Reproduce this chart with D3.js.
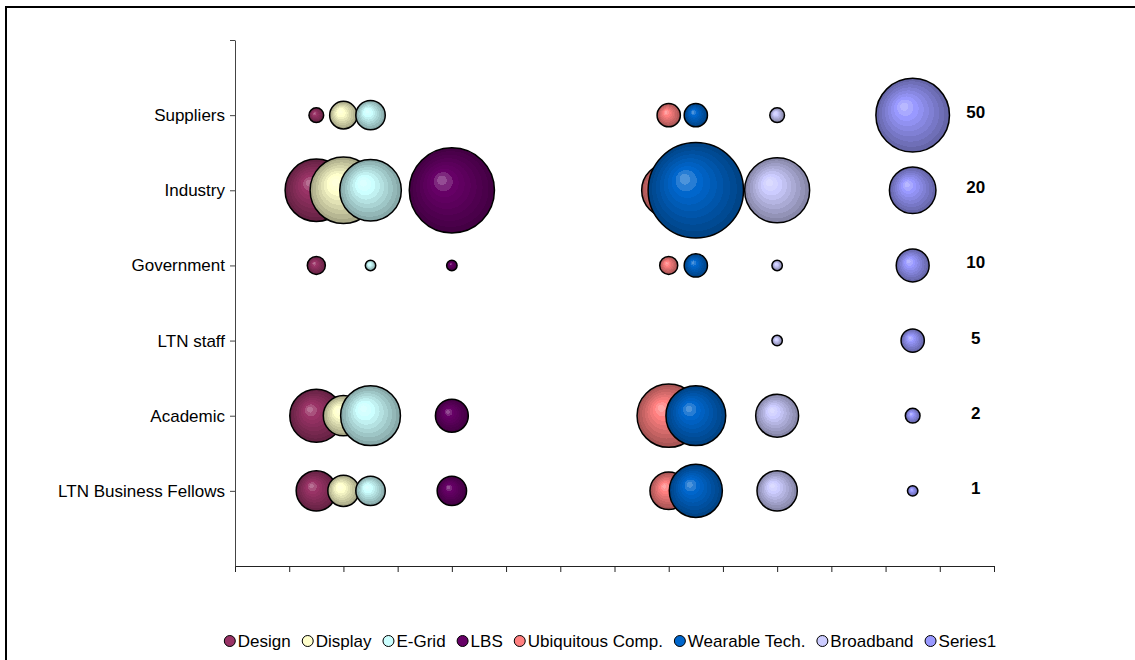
<!DOCTYPE html>
<html>
<head>
<meta charset="utf-8">
<script src="https://cdn.jsdelivr.net/npm/d3@7"></script>
<style>
  html, body { margin: 0; padding: 0; background: #fff; }
  svg { display: block; font-family: Arial, "Liberation Sans", sans-serif; }
</style>
</head>
<body>
<svg id="chart" width="1135" height="660"></svg>
<script>
// Row labels on the vertical axis, bottom (y = 1) to top (y = 6)
const categories = ["LTN Business Fellows", "Academic", "LTN staff", "Government", "Industry", "Suppliers"];

// Series names and the horizontal position of each series column
const seriesNames = ["Design", "Display", "E-Grid", "LBS", "Ubiquitous Comp.", "Wearable Tech.", "Broadband", "Series1"];
const seriesX = [1.5, 2, 2.5, 4, 8, 8.5, 10, 12.5];
const seriesColors = ["#993366", "#FFFFCC", "#CCFFFF", "#660066", "#FF8080", "#0066CC", "#CCCCFF", "#9999FF"];

// Bubble sizes per series, one per category (null = no bubble)
const design     = [15, 26, null, 3, 36, 2];
const display    = [9, 15, null, null, 41, 7];
const eGrid      = [8, 33, null, 1, 35, 8];
const lbs        = [8, 10, null, 1, 67, null];
const ubiquitous = [13, 37, null, 3, 27, 5];
const wearable   = [26, 33, null, 5, 84, 5];
const broadband  = [15, 17, 1, 1, 39, 2];
const series1    = [1, 2, 5, 10, 20, 50];
const seriesValues = [design, display, eGrid, lbs, ubiquitous, wearable, broadband, series1];

// Axis extents and ticks
const xDomain = [0, 14];
const yDomain = [0, 7];
const xTicks = d3.range(0, 15);
const yTicks = [1, 2, 3, 4, 5, 6, 7];

const svg = d3.select("#chart");

// Outer chart frame (runs off the right and bottom edges)
svg.append("rect")
  .attr("x", 6).attr("y", 7)
  .attr("width", 1160).attr("height", 700)
  .attr("fill", "none").attr("stroke", "#000").attr("stroke-width", 2);

const plot = { left: 235, right: 994, top: 40, bottom: 566 };

const x = d3.scaleLinear().domain(xDomain).range([plot.left, plot.right]);
const y = d3.scaleLinear().domain(yDomain).range([plot.bottom, plot.top]);
const r = d3.scaleSqrt().domain([0, 50]).range([0, 36.8]);

// Banded radial gradients, light spot up-left, darker rim
const defs = svg.append("defs");
seriesColors.forEach((c, i) => {
  const light = d3.interpolateRgb(c, "#ffffff")(0.3);
  const dark = d3.color(c).darker(1.15).formatHex();
  const g = defs.append("radialGradient")
    .attr("id", "grad" + i)
    .attr("cx", "50%").attr("cy", "50%").attr("r", "50%")
    .attr("fx", "37%").attr("fy", "37%");
  const bands = 9;
  for (let b = 0; b < bands; b++) {
    const t = b / (bands - 1);
    const col = t < 0.25
      ? d3.interpolateRgb(light, c)(t / 0.25)
      : d3.interpolateRgb(c, dark)((t - 0.25) / 0.75);
    g.append("stop").attr("offset", (b / bands * 100) + "%").attr("stop-color", col);
    g.append("stop").attr("offset", ((b + 1) / bands * 100) + "%").attr("stop-color", col);
  }
});

// Axes
const xAxis = d3.axisBottom(x).tickValues(xTicks).tickFormat("").tickSize(6).tickSizeOuter(0);
const gx = svg.append("g").attr("transform", `translate(0,${plot.bottom})`).call(xAxis);
gx.select(".domain").attr("stroke", "#222");
gx.selectAll(".tick line").attr("stroke", "#222");

const yAxis = d3.axisLeft(y).tickValues(yTicks)
  .tickFormat(v => categories[v - 1] || "")
  .tickSize(5).tickPadding(5).tickSizeOuter(0);
const gy = svg.append("g").attr("transform", `translate(${plot.left},0)`).call(yAxis);
gy.select(".domain").attr("stroke", "#444");
gy.selectAll(".tick line").attr("stroke", "#444");
gy.selectAll(".tick text")
  .attr("font-size", 17).attr("fill", "#000")
  .attr("font-family", "Arial, 'Liberation Sans', sans-serif");

// Bubbles, series by series
const bubbles = svg.append("g");
seriesValues.forEach((vals, si) => {
  const pts = vals.map((v, ci) => ({ v, ci })).filter(d => d.v != null);
  bubbles.append("g").selectAll("circle")
    .data(pts)
    .join("circle")
    .attr("cx", x(seriesX[si]))
    .attr("cy", d => y(d.ci + 1))
    .attr("r", d => r(d.v))
    .attr("fill", `url(#grad${si})`)
    .attr("stroke", "#000")
    .attr("stroke-width", 1.5);
});

// Size labels next to the reference bubbles
svg.append("g").selectAll("text")
  .data(series1)
  .join("text")
  .attr("x", x(seriesX[7]) + 63)
  .attr("y", (d, i) => y(i + 1) - 3)
  .attr("dy", "0.35em")
  .attr("text-anchor", "middle")
  .attr("font-size", 17)
  .attr("font-weight", "bold")
  .text(d => d);

// Legend
const legend = svg.append("g");
let lx = 0;
seriesNames.forEach((name, i) => {
  const item = legend.append("g").attr("transform", `translate(${lx},0)`);
  item.append("circle").attr("cx", 6).attr("cy", 0).attr("r", 5.5)
    .attr("fill", seriesColors[i]).attr("stroke", "#000").attr("stroke-width", 1);
  const t = item.append("text").attr("x", 14).attr("y", 0).attr("dy", "0.35em")
    .attr("font-size", 17).text(name);
  lx += 14 + t.node().getComputedTextLength() + 11;
});
const legendWidth = lx - 11;
legend.attr("transform", `translate(${610 - legendWidth / 2},641)`);
</script>
</body>
</html>
